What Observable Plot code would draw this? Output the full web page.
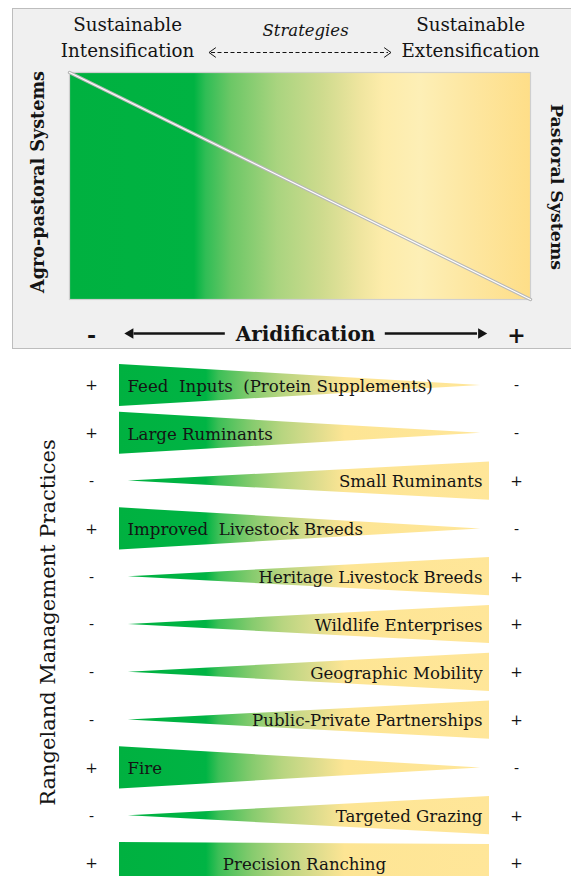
<!DOCTYPE html>
<html><head><meta charset="utf-8">
<script src="https://cdn.jsdelivr.net/npm/d3@7"></script>
<script src="https://cdn.jsdelivr.net/npm/@observablehq/plot@0.6"></script>
<style>
body{margin:0;background:#fff;width:571px;height:876px;overflow:hidden;font-family:"DejaVu Serif",serif;}
#wrap{position:relative;width:571px;height:876px;overflow:hidden;}
#panel{position:absolute;left:12px;top:8px;width:580px;height:341px;background:#f0f0f0;border:1px solid #bdbdbd;box-sizing:border-box;}
#top{position:absolute;left:0;top:0;}
#bottom{position:absolute;left:0;top:350px;}
svg{overflow:visible;}
</style></head>
<body><div id="wrap"><div id="panel"></div><div id="top"></div><div id="bottom"></div></div>
<script>
// ---- data ----
const practices = ["Feed\u00a0 Inputs\u00a0 (Protein Supplements)", "Large Ruminants", "Small Ruminants", "Improved\u00a0 Livestock Breeds", "Heritage Livestock Breeds", "Wildlife Enterprises", "Geographic Mobility", "Public-Private Partnerships", "Fire", "Targeted Grazing", "Precision Ranching"];
const trends = ["decrease","decrease","increase","decrease","increase","increase","increase","increase","decrease","increase","constant"];
const leftSigns = ["+","+","-","+","-","-","-","-","+","-","+"];
const rightSigns = ["-","-","+","-","+","+","+","+","-","+","+"];
const strategyLabels = ["Sustainable\nIntensification", "Strategies", "Sustainable\nExtensification"];
const systemLabels = ["Agro-pastoral Systems", "Pastoral Systems"];
const aridityLabel = "Aridification";
const aridityEnds = ["-", "+"];
const practicesTitle = "Rangeland Management Practices";

// ---- helpers ----
const NS = "http://www.w3.org/2000/svg";
function gradientMark(id, stops, from, to) {
  return (index, scales) => {
    const defs = document.createElementNS(NS, "defs");
    const g = document.createElementNS(NS, "linearGradient");
    g.setAttribute("id", id);
    g.setAttribute("gradientUnits", "userSpaceOnUse");
    g.setAttribute("x1", scales.x(from)); g.setAttribute("x2", scales.x(to));
    g.setAttribute("y1", 0); g.setAttribute("y2", 0);
    for (const [o, c] of stops) {
      const s = document.createElementNS(NS, "stop");
      s.setAttribute("offset", o); s.setAttribute("stop-color", c);
      g.appendChild(s);
    }
    defs.appendChild(g);
    return defs;
  };
}
// open chevron pointing left (rotate 180 for right)
const chevron = {
  draw(context, size) {
    const s = Math.sqrt(size) / 2;
    context.moveTo(s * 0.7, -s);
    context.lineTo(-s * 0.7, 0);
    context.lineTo(s * 0.7, s);
  }
};
const ink = "#141414";

// ---- top panel ----
const panelStops = [[0,"#00b140"],[0.27,"#00b342"],[0.295,"#2fbd55"],[0.35,"#6cc766"],[0.45,"#a9d47f"],[0.55,"#cfdb8e"],[0.63,"#efe59f"],[0.68,"#fdecaa"],[0.76,"#fdefb6"],[0.86,"#fde7a2"],[1,"#fede88"]];
const diag = [{a:0, s:1}, {a:1, s:0}];
const topPlot = Plot.plot({
  width: 571, height: 350,
  marginLeft: 69, marginRight: 41, marginTop: 72, marginBottom: 51,
  x: {domain: [0, 1], axis: null},
  y: {domain: [0, 1], axis: null},
  style: {background: "transparent", fontFamily: "DejaVu Serif", color: ink},
  marks: [
    gradientMark("panelGrad", panelStops, 0, 1),
    Plot.frame({fill: "url(#panelGrad)", stroke: "#cfcfcf", strokeWidth: 1.2}),
    Plot.line(diag, {x: "a", y: "s", stroke: "#b8b8b8", strokeWidth: 3.4}),
    Plot.line(diag, {x: "a", y: "s", stroke: "#ffffff", strokeWidth: 1.2}),
    // strategies
    Plot.text([strategyLabels[0]], {x: () => 0.126, frameAnchor: "top", dy: -37, lineAnchor: "middle", text: d => d, fontSize: 18.3, lineHeight: 1.42, fill: ink}),
    Plot.text([strategyLabels[2]], {x: () => 0.87, frameAnchor: "top", dy: -37, lineAnchor: "middle", text: d => d, fontSize: 18.3, lineHeight: 1.42, fill: ink}),
    Plot.text([strategyLabels[1]], {x: () => 0.512, frameAnchor: "top", dy: -42, lineAnchor: "middle", text: d => d, fontSize: 16.5, fontStyle: "italic", fill: ink}),
    Plot.ruleY([1], {x1: 0.308, x2: 0.692, dy: -20, stroke: ink, strokeWidth: 1, strokeDasharray: "4,2.5"}),
    Plot.dot([0], {x: () => 0.31, y: () => 1, dy: -20, symbol: chevron, r: 5.5, fill: "none", stroke: ink, strokeWidth: 1}),
    Plot.dot([0], {x: () => 0.69, y: () => 1, dy: -20, symbol: chevron, r: 5.5, rotate: 180, fill: "none", stroke: ink, strokeWidth: 1}),
    // systems
    Plot.text([systemLabels[0]], {frameAnchor: "left", textAnchor: "middle", dx: -31, dy: -4, rotate: -90, text: d => d, fontSize: 17.6, fontWeight: "bold", fill: ink}),
    Plot.text([systemLabels[1]], {frameAnchor: "right", textAnchor: "middle", dx: 26, dy: 1, rotate: 90, text: d => d, fontSize: 17.4, fontWeight: "bold", fill: ink}),
    // aridification axis
    Plot.text([aridityLabel], {frameAnchor: "bottom", lineAnchor: "middle", dx: 5.5, dy: 35, text: d => d, fontSize: 20, fontWeight: "bold", fill: ink}),
    Plot.text([aridityEnds[0]], {frameAnchor: "bottom-left", textAnchor: "middle", lineAnchor: "middle", dx: 22, dy: 36, text: d => d, fontSize: 22, fontWeight: "bold", fill: ink}),
    Plot.text([aridityEnds[1]], {frameAnchor: "bottom-right", textAnchor: "middle", lineAnchor: "middle", dx: -14, dy: 36, text: d => d, fontSize: 22, fontWeight: "bold", fill: ink}),
    Plot.ruleY([0], {x1: 0.14, x2: 0.338, dy: 34, stroke: ink, strokeWidth: 2.6}),
    Plot.ruleY([0], {x1: 0.685, x2: 0.885, dy: 34, stroke: ink, strokeWidth: 2.6}),
    Plot.dot([0], {x: () => 0.132, y: () => 0, dy: 34, symbol: "triangle2", r: 5, rotate: -90, fill: ink, stroke: "none"}),
    Plot.dot([0], {x: () => 0.893, y: () => 0, dy: 34, symbol: "triangle2", r: 5, rotate: 90, fill: ink, stroke: "none"})
  ]
});
document.getElementById("top").appendChild(topPlot);

// ---- bottom: rangeland management practices ----
const rows = practices.map((name, i) => ({name, i, trend: trends[i], left: leftSigns[i], right: rightSigns[i]}));
const thickL = 0.44, thickR = 0.40, tipInset = 0.024;
const wedge = rows.flatMap(r => {
  const [x0, x1, h0, h1] = r.trend === "decrease" ? [0, 1 - tipInset, thickL, 0]
    : r.trend === "increase" ? [tipInset, 1, 0, thickR]
    : [0, 1, thickL, thickR];
  return [{name: r.name, x: x0, lo: r.i - h0, hi: r.i + h0}, {name: r.name, x: x1, lo: r.i - h1, hi: r.i + h1}];
});
const wedgeStops = [[0,"#00b140"],[0.235,"#00b444"],[0.27,"#3dbf57"],[0.36,"#86cb6e"],[0.44,"#b7d580"],[0.53,"#dcdc8d"],[0.61,"#fde594"],[1,"#ffe699"]];
const bottomPlot = Plot.plot({
  width: 571, height: 526,
  marginLeft: 119, marginRight: 82, marginTop: 14, marginBottom: 0,
  x: {domain: [0, 1], range: [119, 489], axis: null},
  y: {domain: [0, 10], range: [35, 513], axis: null},
  style: {background: "transparent", fontFamily: "DejaVu Serif", color: ink},
  marks: [
    gradientMark("wedgeGrad", wedgeStops, 0, 1),
    Plot.areaY(wedge, {x: "x", y1: "lo", y2: "hi", z: "name", fill: "url(#wedgeGrad)", curve: "linear"}),
    Plot.text(rows.filter(r => r.trend === "decrease"), {x: () => 0, y: "i", dx: 8, dy: 1, textAnchor: "start", text: "name", fontSize: 16.6, fill: ink}),
    Plot.text(rows.filter(r => r.trend === "increase"), {x: () => 1, y: "i", dx: -7, dy: 1, textAnchor: "end", text: "name", fontSize: 16.6, fill: ink}),
    Plot.text(rows.filter(r => r.trend === "constant"), {x: () => 0.5, y: "i", dy: 1, text: "name", fontSize: 16.6, fill: ink}),
    Plot.text(rows, {x: () => 0, y: "i", dx: -28, text: "left", fontSize: 15, fill: ink}),
    Plot.text(rows, {x: () => 1, y: "i", dx: 27, text: "right", fontSize: 15, fill: ink}),
    Plot.text([practicesTitle], {frameAnchor: "left", textAnchor: "middle", dx: -71, dy: 2, rotate: -90, text: d => d, fontSize: 21, fill: ink})
  ]
});
document.getElementById("bottom").appendChild(bottomPlot);
</script>
</body></html>
